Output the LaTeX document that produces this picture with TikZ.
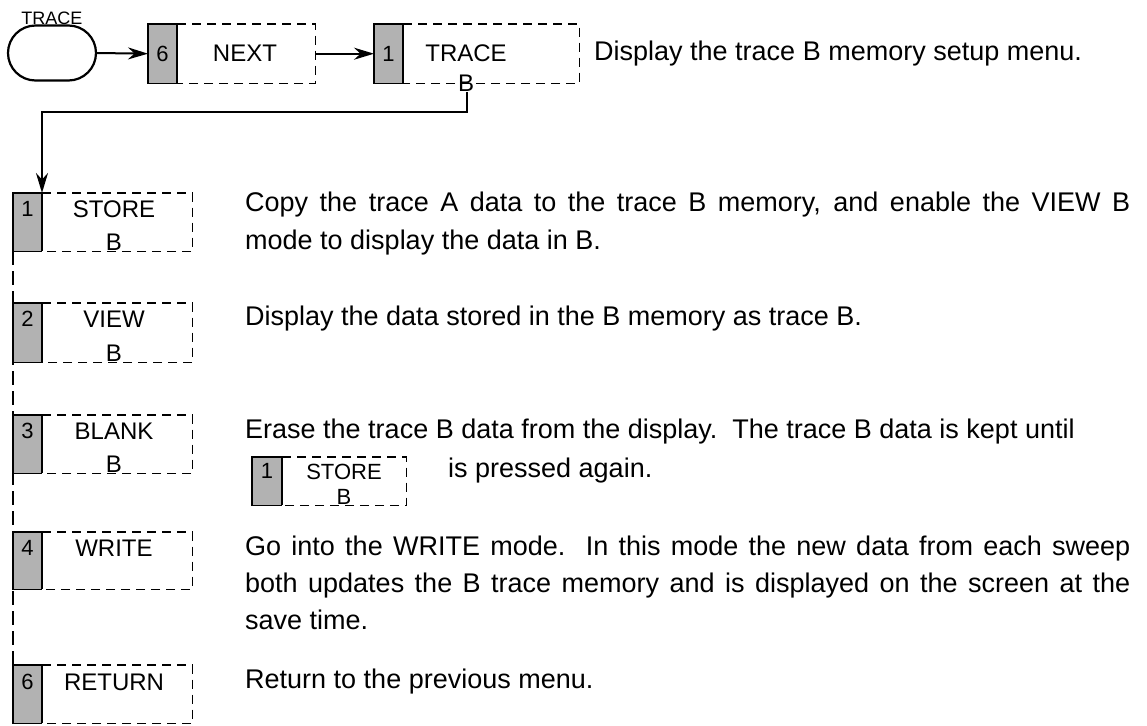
\documentclass[tikz,border=0pt]{standalone}
\usepackage{fontspec}
\setmainfont{Liberation Sans}
\usetikzlibrary{calc,arrows.meta}
\tikzset{
  keyframe/.style={draw=none, inner sep=0pt, anchor=north west},
  keygrey/.style={fill=black!30},
  keysolid/.style={draw=black, line width=1.6pt},
  keydash/.style={draw=black, line width=1.8pt, dash pattern=on 9pt off 6pt},
  keydiv/.style={draw=black, line width=2.6pt},
  digit/.style={anchor=base, inner sep=0pt, font=\fontsize{22}{22}\selectfont},
  keylab/.style={anchor=base, inner sep=0pt, font=\fontsize{24}{24}\selectfont},
  smalllab/.style={anchor=base, inner sep=0pt, font=\fontsize{18}{18}\selectfont},
  inlab/.style={anchor=base, inner sep=0pt, font=\fontsize{22}{22}\selectfont},
  desc/.style={anchor=base west, inner sep=0pt, font=\fontsize{27}{38}\selectfont},
  conn/.style={draw=black, line width=2pt, -{Stealth[length=20pt,width=12pt]}},
  leftdash/.style={draw=black, line width=2pt, dash pattern=on 14pt off 6pt},
  oval/.style={draw=black, line width=2.2pt, rectangle, rounded corners=27.5pt,
    minimum width=88pt, minimum height=55pt, inner sep=0pt}
}
\newcommand\drawkey[6]{%
  \node[keyframe, minimum width=#4, minimum height=#5] (#1) at (#2,#3) {};
  \fill[keygrey] (#1.north west) rectangle ($(#1.south west)+(#6,0)$);
  \draw[keysolid] ($(#1.north west)+(#6,0)$) -- (#1.north west) -- (#1.south west) -- ($(#1.south west)+(#6,0)$);
  \draw[keydash] ($(#1.north west)+(#6,0)$) -- (#1.north east) -- (#1.south east) -- ($(#1.south west)+(#6,0)$);
  \draw[keydiv] ($(#1.north west)+(#6,0)$) -- ($(#1.south west)+(#6,0)$);
}
\begin{document}
\begin{tikzpicture}[x=1pt,y=-1pt]
\useasboundingbox (0,0) rectangle (1147,725);

% ---- top row ----
\node[smalllab] (tracelab) at (52,25) {TRACE};
\node[oval] (oval) at (52,53) {};

\drawkey{knext}{148}{24}{167pt}{59pt}{29}
\node[digit] (dnext) at (162.5,61) {6};
\node[keylab] (lnext) at (245,62) {NEXT};

\drawkey{ktrb}{374}{24}{205pt}{59pt}{29}
\node[digit] (dtrb) at (388.5,61) {1};
\node[keylab] (ltrb1) at (466,62) {TRACE};
\node[keylab] (ltrb2) at (466,91) {B};

\node[desc] (dtop) at (594,60) {Display the trace B memory setup menu.};

\draw[conn] (oval.east) -- (knext.west);
\draw[conn] (knext.east) -- (ktrb.west);

\coordinate (cB) at (467,92);
\coordinate (cturn) at (467,112);

% ---- left column keys ----
\drawkey{kstore}{13}{193}{179pt}{58pt}{29}
\node[digit] (dstore) at (27.5,216) {1};
\node[keylab] (lstore1) at (114,217) {STORE};
\node[keylab] (lstore2) at (114,250) {B};

\drawkey{kview}{13}{303}{179pt}{59pt}{29}
\node[digit] (dview) at (27.5,326) {2};
\node[keylab] (lview1) at (114,327) {VIEW};
\node[keylab] (lview2) at (114,361) {B};

\drawkey{kblank}{13}{415}{179pt}{58pt}{29}
\node[digit] (dblank) at (27.5,438) {3};
\node[keylab] (lblank1) at (114,439) {BLANK};
\node[keylab] (lblank2) at (114,472) {B};

\drawkey{kwrite}{13}{532}{179pt}{57pt}{29}
\node[digit] (dwrite) at (27.5,555) {4};
\node[keylab] (lwrite) at (114,556) {WRITE};

\drawkey{kreturn}{13}{665}{179pt}{58pt}{29}
\node[digit] (dreturn) at (27.5,689) {6};
\node[keylab] (lreturn) at (114,690) {RETURN};

% connector from TRACE B down to STORE B
\draw[conn] (cB) -- (cturn) -| ($(kstore.north west)+(29,0)$);

% dashed left line linking the keys
\draw[leftdash] (kstore.south west) -- (kreturn.north west);

% ---- descriptions ----
\node[desc] (t1a) at (245,211) {\makebox[885pt][s]{Copy the trace A data to the trace B memory, and enable the VIEW B}};
\node[desc] (t1b) at (245,249) {mode to display the data in B.};

\node[desc] (t2) at (245,325) {Display the data stored in the B memory as trace B.};

\node[desc] (t3a) at (245,438) {Erase the trace B data from the display.\ \ The trace B data is kept until};
\drawkey{kinl}{252}{457}{154pt}{48pt}{30}
\node[inlab] (dinl) at (267,478) {1};
\node[inlab] (linl1) at (344,479) {STORE};
\node[inlab] (linl2) at (344,504) {B};
\node[desc] (t3b) at (448,477) {is pressed again.};

\node[desc] (t4a) at (245,555) {\makebox[885pt][s]{Go into the WRITE mode.\ \ In this mode the new data from each sweep}};
\node[desc] (t4b) at (245,592) {\makebox[885pt][s]{both updates the B trace memory and is displayed on the screen at the}};
\node[desc] (t4c) at (245,629) {save time.};

\node[desc] (t5) at (245,688) {Return to the previous menu.};
\end{tikzpicture}
\end{document}
